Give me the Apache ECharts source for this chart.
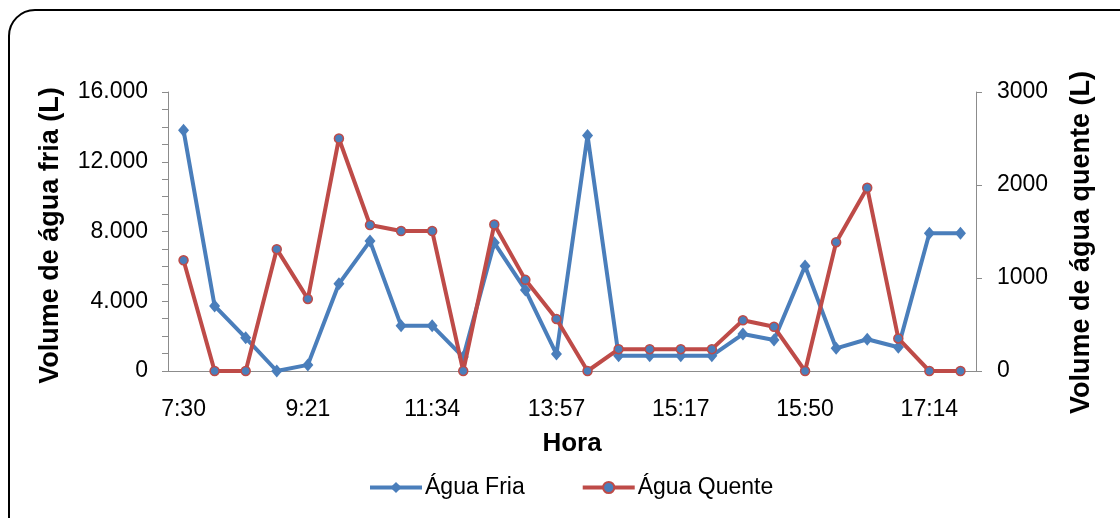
<!DOCTYPE html>
<html>
<head>
<meta charset="utf-8">
<script src="https://cdn.jsdelivr.net/npm/echarts@6/dist/echarts.min.js"></script>
<style>
  html, body { margin: 0; padding: 0; background: #fff; }
  #chart { width: 1120px; height: 518px; }
</style>
</head>
<body>
<div id="chart"></div>
<script>
// Hourly readings of cold and hot water volume
const horas = ['7:30', '7:58', '8:25', '8:53', '9:21', '9:54', '10:26', '10:59', '11:34',
  '12:10', '12:45', '13:21', '13:57', '14:17', '14:37', '14:57', '15:17', '15:25',
  '15:33', '15:42', '15:50', '16:11', '16:32', '16:53', '17:14', '17:35'];

// Cold water volume (L), left axis
const aguaFria = [13800, 3730, 1900, 0, 350, 5000, 7450, 2600, 2600, 800, 7350, 4650, 970,
  13500, 880, 880, 880, 880, 2120, 1780, 6020, 1300, 1820, 1360, 7900, 7900];

// Hot water volume (L), right axis
const aguaQuente = [1190, 0, 0, 1310, 775, 2500, 1570, 1505, 1505, 0, 1575, 980, 560,
  0, 235, 235, 235, 235, 545, 475, 0, 1385, 1970, 350, 0, 0];

const FONT = '"Liberation Sans", Arial, sans-serif';
const AXIS_GRAY = '#8c8c8c';
const BLUE = '#4a7ebb';
const RED = '#be4b48';

// Thousands separated by a dot (pt-BR style)
function milhar(v) {
  return String(v).replace(/\B(?=(\d{3})+(?!\d))/g, '.');
}

const chart = echarts.init(document.getElementById('chart'), null, { renderer: 'canvas' });

chart.setOption({
  backgroundColor: '#ffffff',
  animation: false,
  textStyle: { fontFamily: FONT, color: '#000' },
  graphic: [{
    type: 'rect',
    shape: { x: 9, y: 10, width: 1140, height: 540, r: 26 },
    style: { fill: 'none', stroke: '#000', lineWidth: 2 },
    silent: true,
    z: 0
  }],
  grid: { left: 168, right: 144, top: 92, bottom: 147 },
  legend: {
    left: 368,
    top: 476,
    padding: 0,
    itemWidth: 52,
    itemHeight: 14,
    itemGap: 56,
    lineStyle: { width: 4 },
    textStyle: { fontFamily: FONT, fontSize: 23, color: '#000', padding: [0, 0, 0, -2] },
    data: ['Água Fria', 'Água Quente']
  },
  xAxis: {
    type: 'category',
    data: horas,
    boundaryGap: true,
    name: 'Hora',
    nameLocation: 'middle',
    nameGap: 60,
    nameTextStyle: { fontFamily: FONT, fontSize: 26, fontWeight: 'bold', color: '#000' },
    axisLine: { lineStyle: { color: AXIS_GRAY, width: 1 } },
    axisTick: { show: false },
    axisLabel: {
      interval: 3,
      margin: 27,
      fontFamily: FONT,
      fontSize: 23,
      color: '#000'
    },
    splitLine: { show: false }
  },
  yAxis: [{
    type: 'value',
    min: 0,
    max: 16000,
    interval: 4000,
    name: 'Volume de água fria (L)',
    nameLocation: 'middle',
    nameRotate: 90,
    nameGap: 104,
    nameTextStyle: {
      fontFamily: FONT, fontSize: 27, fontWeight: 'bold', color: '#000',
      padding: [0, 8, 0, 0]
    },
    axisLine: { show: true, lineStyle: { color: AXIS_GRAY, width: 1 } },
    axisTick: { show: true, length: 6, lineStyle: { color: AXIS_GRAY } },
    minorTick: { show: true, splitNumber: 4, length: 6, lineStyle: { color: AXIS_GRAY } },
    axisLabel: {
      margin: 20,
      fontFamily: FONT,
      fontSize: 23,
      color: '#000',
      formatter: milhar
    },
    splitLine: { show: false }
  }, {
    type: 'value',
    position: 'right',
    min: 0,
    max: 3000,
    interval: 1000,
    name: 'Volume de água quente (L)',
    nameLocation: 'middle',
    nameRotate: 90,
    nameGap: 92,
    nameTextStyle: {
      fontFamily: FONT, fontSize: 27, fontWeight: 'bold', color: '#000',
      padding: [0, 22, 0, 0]
    },
    axisLine: { show: true, lineStyle: { color: AXIS_GRAY, width: 1 } },
    axisTick: { show: true, length: 6, lineStyle: { color: AXIS_GRAY } },
    axisLabel: {
      margin: 21,
      fontFamily: FONT,
      fontSize: 23,
      color: '#000',
      formatter: (v) => String(v)
    },
    splitLine: { show: false }
  }],
  series: [{
    name: 'Água Fria',
    type: 'line',
    yAxisIndex: 0,
    data: aguaFria,
    symbol: 'diamond',
    symbolSize: [11, 13],
    showAllSymbol: true,
    lineStyle: { color: BLUE, width: 4 },
    itemStyle: { color: BLUE, borderColor: BLUE, borderWidth: 0 },
    z: 2
  }, {
    name: 'Água Quente',
    type: 'line',
    yAxisIndex: 1,
    data: aguaQuente,
    symbol: 'circle',
    symbolSize: 9,
    showAllSymbol: true,
    lineStyle: { color: RED, width: 4 },
    itemStyle: { color: BLUE, borderColor: RED, borderWidth: 1.5 },
    z: 3
  }]
});
</script>
</body>
</html>
